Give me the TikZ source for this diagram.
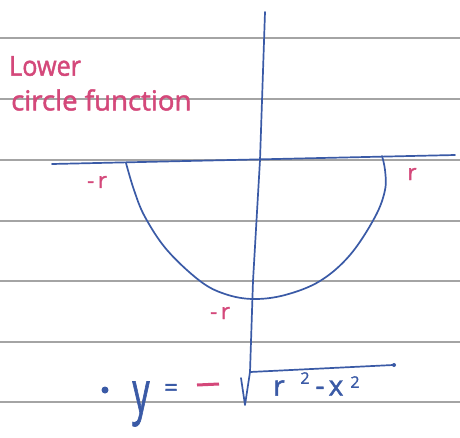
\documentclass[tikz,border=0pt]{standalone}
\usepackage{fontspec}
\setmainfont{Open Sans}
\newfontfamily\hand[FakeBold=1.6]{Open Sans}
\definecolor{penblue}{HTML}{3A5AA6}
\definecolor{penpink}{HTML}{D4487A}
\definecolor{ruled}{HTML}{A4A4A4}
\begin{document}
\begin{tikzpicture}[x=1pt,y=-1pt,
  rule/.style={ruled,line width=1.1pt},
  pen/.style={penblue,line width=1.7pt,line cap=round,line join=round},
  pinktxt/.style={penpink,inner sep=0pt,font=\hand\fontsize{24}{24}\selectfont},
  bluetxt/.style={penblue,inner sep=0pt,font=\hand\fontsize{28}{28}\selectfont},
  smalltxt/.style={penblue,inner sep=0pt,font=\hand\fontsize{16}{16}\selectfont}]
\useasboundingbox (0,0) rectangle (460,437);
\fill[white] (0,0) rectangle (460,437);
% ruled lines
\foreach \yy in {38,99,160,221,281,342,402}
  \draw[rule] (0,\yy) -- (460,\yy);
% title
\node[pinktxt,anchor=west] (lower) at (9,66) {\scalebox{1.05}[1.15]{Lower}};
\node[pinktxt,anchor=west] (circfun) at (11,100) {\scalebox{1.15}[1.15]{circle function}};
% axes
\coordinate (hl) at (52,164);
\coordinate (hr) at (455,155);
\draw[pen] (hl) -- (hr);
\coordinate (vt) at (265,12);
\coordinate (vb) at (250,372);
\draw[pen] (vt) -- (260,160) -- (253,281) -- (vb);
% lower semicircle
\draw[pen] plot[smooth,tension=0.6] coordinates {(126,163) (134,190) (145,217) (167,250) (200,281) (225,294) (253,299) (285,295) (320,281) (350,255) (375,217) (385,190) (385,170) (382,156)};
% labels
\node[pinktxt,font=\hand\fontsize{22}{22}\selectfont] (lr) at (97,182) {-\,r};
\node[pinktxt,font=\hand\fontsize{22}{22}\selectfont] (rr) at (412,174) {r};
\node[pinktxt,font=\hand\fontsize{22}{22}\selectfont] (br) at (220,313) {-\,r};
% equation
\node[circle,fill=penblue,inner sep=0pt,minimum size=7pt] (bul) at (105,390) {};
\node[bluetxt,font=\hand\fontsize{34}{34}\selectfont] (ey) at (141,404) {\scalebox{1}[1.7]{y}};
\node[bluetxt,font=\hand\fontsize{24}{24}\selectfont] (eeq) at (171,390) {=};
\coordinate (emin) at (208,385);
\draw[penpink,line width=3pt] (197,385) -- (219,384);
\coordinate (sq1) at (241,378);
\coordinate (sq2) at (245,405);
\draw[pen] (sq1) -- (sq2) -- (vb) -- (393,365);
\node[circle,fill=penblue,inner sep=0pt,minimum size=4pt] (bdot) at (394,365) {};
\node[bluetxt] (er) at (279,388) {r};
\node[smalltxt] (es1) at (305,378) {2};
\node[bluetxt] (em2) at (320,391) {-};
\node[bluetxt] (ex) at (336,388) {x};
\node[smalltxt] (es2) at (355,382) {2};
\end{tikzpicture}
\end{document}
